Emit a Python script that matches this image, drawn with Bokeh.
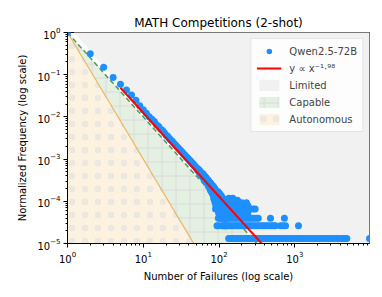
import numpy as np
from bokeh.plotting import figure
from bokeh.models import Legend, LegendItem, LogTicker, Range1d
from bokeh.embed import file_html
from bokeh.resources import INLINE

# ---------------- data ----------------
reference_count = 75700  # count at 1 failure, used for normalisation

head_failures = list(range(1, 131))
head_counts = [
    75700, 23850, 11430, 6490, 4490, 3280, 2490, 1890, 1400, 1120,
    930, 760, 670, 590, 495, 450, 385, 360, 318, 280,
    262, 236, 215, 203, 184, 170, 160, 146, 139, 128,
    122, 113, 109, 100, 96, 91, 85, 82, 78, 74,
    70, 68, 63, 62, 58, 57, 53, 52, 49, 48,
    45, 42, 44, 38, 41, 34, 38, 33, 31, 35,
    28, 33, 26, 30, 25, 29, 22, 27, 21, 25,
    19, 24, 17, 22, 16, 21, 14, 20, 13, 18,
    12, 18, 11, 17, 9, 16, 8, 15, 7, 14,
    6, 13, 8, 12, 5, 13, 7, 11, 4, 12,
    6, 10, 5, 11, 3, 9, 6, 10, 4, 8,
    5, 9, 3, 7, 4, 8, 2, 6, 5, 7,
    3, 6, 2, 8, 4, 5, 3, 7, 2, 5,
]

tail_failures_c1 = [134, 140, 148, 155, 163, 170, 180, 190, 200, 212, 225, 238,
                    250, 265, 280, 300, 318, 335, 355, 380, 400, 425, 450, 480,
                    510, 545, 580, 620, 660, 700, 750, 800, 860, 920, 990, 1060,
                    1140, 1230, 1320, 1420, 1530, 1650, 1780, 1900, 2050, 2200,
                    2380, 2560, 2750, 2950, 3150, 3400, 3650, 3950, 4250, 4550,
                    4870, 9700]
tail_failures_c2 = [94, 99, 108, 115, 122, 131, 138, 145, 152, 160, 168, 177, 186,
                    196, 207, 220, 232, 245, 258, 272, 290, 310, 330, 352, 375,
                    400, 430, 460, 495, 530, 555, 650, 700, 755, 1120]
tail_failures_c3 = [98, 104, 112, 119, 127, 135, 143, 152, 162, 172, 183, 195,
                    208, 222, 237, 252, 270, 290, 310, 330, 478, 730]
tail_failures_c4 = [100, 108, 125, 140, 150, 165, 180, 200, 215, 240]
tail_failures_c5 = [90, 118, 133, 145, 160, 175, 190, 230, 260, 282, 300]
tail_failures_c6 = [95, 128, 137, 155, 170, 210, 240]
tail_failures_c7 = [112, 132, 148, 185, 200, 230]
tail_failures_c8 = [122, 142, 160, 175]
tail_failures_c9 = [135, 152]

fit_exponent = -1.98
fit_coefficient = 1.19
fit_x_start = 5
limited_capable_exponent = -2.0
capable_autonomous_exponent = -3.0

x_limits = (1, 9700)
y_limits = (1e-5, 1)

# ---------------- assemble ----------------
xs = list(head_failures)
cs = list(head_counts)
for c, arr in enumerate([tail_failures_c1, tail_failures_c2, tail_failures_c3,
                         tail_failures_c4, tail_failures_c5, tail_failures_c6,
                         tail_failures_c7, tail_failures_c8, tail_failures_c9], start=1):
    xs += arr
    cs += [c] * len(arr)
freq = [c / reference_count for c in cs]

p = figure(width=374, height=289, x_axis_type="log", y_axis_type="log",
           x_range=Range1d(*x_limits), y_range=Range1d(*y_limits),
           output_backend="svg", toolbar_location=None,
           min_border_left=67, min_border_right=5, min_border_top=32, min_border_bottom=46,
           title="MATH Competitions (2-shot)")
p.frame_width = 302
p.frame_height = 211

p.title.align = "center"
p.title.text_font = "DejaVu Sans"
p.title.text_font_size = "12px"
p.title.text_font_style = "normal"
p.title.text_color = "black"
p.title.offset = 0
p.title.standoff = 6

p.background_fill_color = "white"
p.border_fill_color = "white"
p.outline_line_color = "black"
p.outline_line_width = 1
p.xgrid.visible = False
p.ygrid.visible = False

# regions (patches in data space; straight lines in log-log space)
x_lo, x_hi = x_limits
y_floor = 1e-7
xb_lc = y_floor ** (1 / limited_capable_exponent)
xb_ca = y_floor ** (1 / capable_autonomous_exponent)

limited = p.patch([x_lo, x_hi * 2, x_hi * 2, xb_lc], [1.5, 1.5, y_floor, y_floor],
                  fill_color="#f1f1f1", line_color=None)
capable = p.patch([x_lo, xb_lc, xb_ca], [1, y_floor, y_floor],
                  fill_color="#e4f1e2", line_color=None,
                  hatch_pattern="+", hatch_color="#dadada", hatch_scale=14, hatch_weight=1)
autonomous = p.patch([x_lo, xb_ca, x_lo], [1, y_floor, y_floor],
                     fill_color="#fdf2e0", line_color=None,
                     hatch_pattern=".", hatch_color="#ebe7e1", hatch_scale=13, hatch_weight=1)

# boundary lines
p.line([x_lo, xb_lc], [1, y_floor], line_color="#3f8f46", line_width=1.5,
       line_dash="5 3", line_alpha=0.9)
p.line([x_lo, xb_ca], [1, y_floor], line_color="#e8ae55", line_width=1.2, line_alpha=0.9)

# scatter
pts = p.scatter(xs, freq, size=7, color="#1e8fff", line_color=None, alpha=1.0)

# fit line
fx = [fit_x_start, x_hi]
fy = [fit_coefficient * v ** fit_exponent for v in fx]
fit = p.line(fx, fy, line_color="red", line_width=2)

# axes
for ax in (p.xaxis[0], p.yaxis[0]):
    ax.major_label_text_font = "DejaVu Sans"
    ax.major_label_text_font_size = "10px"
    ax.major_label_text_color = "black"
    ax.axis_label_text_font = "DejaVu Sans"
    ax.axis_label_text_font_size = "10px"
    ax.axis_label_text_font_style = "normal"
    ax.axis_label_text_color = "black"
    ax.major_tick_out = 4
    ax.major_tick_in = 0
    ax.minor_tick_out = 2
    ax.minor_tick_in = 0
    ax.axis_line_color = "black"
    ax.major_tick_line_color = "black"
    ax.minor_tick_line_color = "black"
p.xaxis.axis_label = "Number of Failures (log scale)"
p.yaxis.axis_label = "Normalized Frequency (log scale)"
p.xaxis.ticker = LogTicker(num_minor_ticks=10)
p.yaxis.ticker = LogTicker(num_minor_ticks=10)
p.xaxis.major_label_standoff = 3
p.yaxis.major_label_standoff = 3
p.xaxis.axis_label_standoff = 5
p.yaxis.axis_label_standoff = 6

legend = Legend(items=[
    LegendItem(label="Qwen2.5-72B", renderers=[pts]),
    LegendItem(label="y ∝ x⁻¹·⁹⁸", renderers=[fit]),
    LegendItem(label="Limited", renderers=[limited]),
    LegendItem(label="Capable", renderers=[capable]),
    LegendItem(label="Autonomous", renderers=[autonomous]),
], location="top_right")
legend.label_text_font = "DejaVu Sans"
legend.label_text_font_size = "10px"
legend.glyph_width = 25
legend.glyph_height = 14
legend.label_height = 14
legend.spacing = 3
legend.padding = 5
legend.margin = 6
legend.label_standoff = 8
legend.border_line_color = "#cccccc"
legend.border_line_width = 1
legend.background_fill_alpha = 0.85
p.add_layout(legend)

open("out.html", "w").write(file_html(p, INLINE))
